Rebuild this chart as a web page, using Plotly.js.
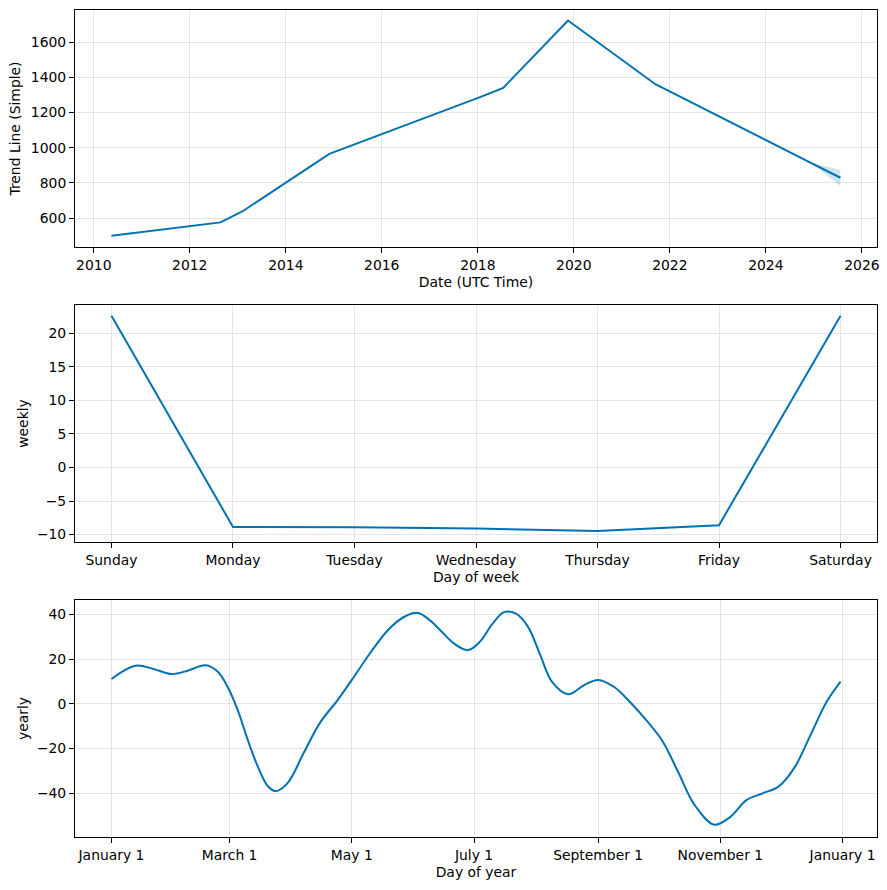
<!DOCTYPE html>
<html>
<head>
<meta charset="utf-8">
<script src="https://cdn.plot.ly/plotly-3.0.1.min.js"></script>
<style>html,body{margin:0;padding:0;background:#fff;}#chart{width:887px;height:890px;}</style>
</head>
<body>
<div id="chart"></div>
<script>
// ---- Trend component ----
const trendDates = ["2010-05-15","2012-08-22","2013-02-03","2014-11-28","2018-01-23","2018-07-13","2019-11-18","2021-09-13","2024-12-05","2025-07-22"];
const trendValues = [499, 575, 637, 965, 1289, 1340, 1723, 1361, 915, 829];
const bandDates = ["2024-12-05","2025-07-22"];
const bandUpper = [915, 873];
const bandLower = [915, 782];

// ---- Weekly component ----
const weekDays = ["Sunday","Monday","Tuesday","Wednesday","Thursday","Friday","Saturday"];
const weeklyValues = [22.6, -8.85, -8.9, -9.1, -9.45, -8.6, 22.6];

// ---- Yearly component ----
const yearDates = ["2017-01-01","2017-01-13","2017-01-22","2017-01-31","2017-02-08","2017-02-17","2017-02-23","2017-02-28",
  "2017-03-05","2017-03-10","2017-03-15","2017-03-20","2017-03-24","2017-03-30","2017-04-07","2017-04-15","2017-04-24",
  "2017-05-01","2017-05-10","2017-05-19","2017-05-27","2017-06-03","2017-06-09","2017-06-15","2017-06-21","2017-06-28",
  "2017-07-04","2017-07-10","2017-07-16","2017-07-22","2017-07-28","2017-08-03","2017-08-09","2017-08-17","2017-08-25",
  "2017-09-01","2017-09-09","2017-09-17","2017-09-25","2017-10-03","2017-10-11","2017-10-19","2017-10-29",
  "2017-11-06","2017-11-14","2017-11-22","2017-11-30","2017-12-08","2017-12-16","2017-12-24","2017-12-31"];
const yearValues = [11.1, 17.0, 15.6, 13.3, 14.8, 17.2, 14.4, 7.5,
  -2.7, -16, -27.9, -36.7, -39, -35.3, -21.9, -8.6, 1.8,
  10.7, 22.5, 32.9, 38.8, 40.6, 37.3, 32.1, 27.0, 24.0,
  27.8, 35.5, 41.0, 40.3, 34.4, 22.0, 9.8, 4.3, 8.4,
  10.7, 7.5, 0.7, -7.3, -16.5, -30.6, -45.0, -54,
  -50.5, -43.0, -40.0, -37.0, -28.5, -14.0, 0.8, 9.9];
const yearTickVals = ["2017-01-01","2017-03-01","2017-05-01","2017-07-01","2017-09-01","2017-11-01","2018-01-01"];
const yearTickText = ["January 1","March 1","May 1","July 1","September 1","November 1","January 1"];

const blue = "#0072B2";
const font = {family: "DejaVu Sans, sans-serif", size: 13.9, color: "#000"};
const grid = "rgba(128,128,128,0.2)";

const traces = [
  {x: bandDates, y: bandLower, xaxis: "x", yaxis: "y", mode: "lines", line: {width: 0, color: blue}, showlegend: false, hoverinfo: "skip"},
  {x: bandDates, y: bandUpper, xaxis: "x", yaxis: "y", mode: "lines", line: {width: 0, color: blue}, fill: "tonexty", fillcolor: "rgba(0,114,178,0.2)", showlegend: false, hoverinfo: "skip"},
  {x: trendDates, y: trendValues, xaxis: "x", yaxis: "y", mode: "lines", line: {color: blue, width: 2}, showlegend: false},
  {x: weekDays, y: weeklyValues, xaxis: "x2", yaxis: "y2", mode: "lines", line: {color: blue, width: 2}, showlegend: false},
  {x: yearDates, y: yearValues, xaxis: "x3", yaxis: "y3", mode: "lines", line: {color: blue, width: 2, shape: "spline", smoothing: 1}, showlegend: false}
];

function ax(extra) {
  return Object.assign({
    showline: true, mirror: true, linecolor: "#000", linewidth: 1,
    ticks: "outside", ticklen: 5, tickcolor: "#000", tickwidth: 1,
    showgrid: true, gridcolor: grid, gridwidth: 1, zeroline: false,
    tickfont: font, automargin: false
  }, extra);
}

const layout = {
  width: 887, height: 890,
  margin: {l: 75, r: 10, t: 10, b: 53},
  paper_bgcolor: "#fff", plot_bgcolor: "#fff",
  font: font,
  xaxis: ax({anchor: "y", type: "date", range: ["2009-08-11", "2026-04-26"], dtick: "M24", tick0: "2010-01-01", tickformat: "%Y",
    title: {text: "Date (UTC Time)", font: font, standoff: 5}}),
  yaxis: ax({anchor: "x", domain: [0.7134, 1], range: [435, 1783], tickvals: [600, 800, 1000, 1200, 1400, 1600],
    title: {text: "Trend Line (Simple)", font: font, standoff: 6}}),
  xaxis2: ax({anchor: "y2", type: "category", range: [-0.3, 6.3],
    title: {text: "Day of week", font: font, standoff: 5}}),
  yaxis2: ax({anchor: "x2", domain: [0.3567, 0.6433], range: [-11.1, 24.2], tickvals: [-10, -5, 0, 5, 10, 15, 20],
    ticktext: ["\u221210", "\u22125", "0", "5", "10", "15", "20"],
    title: {text: "weekly", font: font, standoff: 5}}),
  xaxis3: ax({anchor: "y3", type: "date", range: ["2016-12-13 19:00", "2018-01-18 05:00"], tickvals: yearTickVals, ticktext: yearTickText,
    title: {text: "Day of year", font: font, standoff: 5}}),
  yaxis3: ax({anchor: "x3", domain: [0, 0.2866], range: [-59.5, 46.4], tickvals: [-40, -20, 0, 20, 40],
    ticktext: ["\u221240", "\u221220", "0", "20", "40"],
    title: {text: "yearly", font: font, standoff: 5}})
};

Plotly.newPlot("chart", traces, layout, {staticPlot: true, displayModeBar: false});
</script>
</body>
</html>
